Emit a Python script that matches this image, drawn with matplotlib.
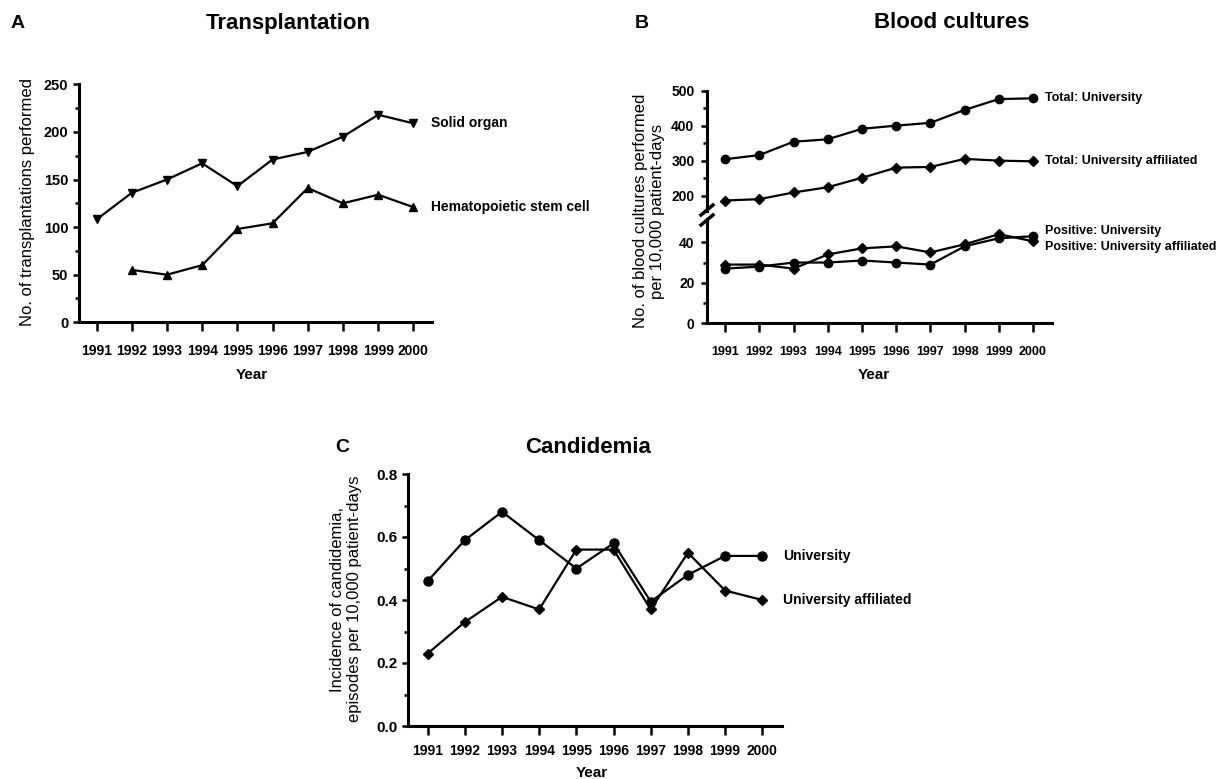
import matplotlib
matplotlib.use("Agg")
import matplotlib.pyplot as plt
from matplotlib.lines import Line2D
from matplotlib.ticker import MultipleLocator, FixedLocator

plt.rcParams['font.family'] = ['Liberation Sans', 'DejaVu Sans']
plt.rcParams['font.weight'] = 'bold'

# ---- data ----
years = list(range(1991, 2001))

# A: transplantation counts
solid_organ = [108, 136, 150, 167, 143, 171, 179, 195, 218, 209]
hsc_years = years[1:]
hsc = [55, 50, 60, 98, 104, 141, 125, 134, 121]

# B: blood cultures per 10,000 patient-days
total_univ = [305, 317, 355, 362, 392, 401, 409, 446, 477, 479]
total_aff = [187, 191, 210, 225, 252, 281, 283, 306, 301, 299]
pos_univ = [27, 28, 30, 30, 31, 30, 29, 38, 42, 43]
pos_aff = [29, 29, 27, 34, 37, 38, 35, 39, 44, 40.5]

# C: candidemia incidence
cand_univ = [0.46, 0.59, 0.68, 0.59, 0.50, 0.58, 0.395, 0.48, 0.54, 0.54]
cand_aff = [0.23, 0.33, 0.41, 0.37, 0.56, 0.56, 0.37, 0.55, 0.43, 0.40]

W, H = 1224, 779
fig = plt.figure(figsize=(W / 100, H / 100), dpi=100)


def fx(px):
    return px / W


def fy(py):
    return 1 - py / H


def add_axes(x0, y0, x1, y1):
    # pixel box (top-left origin) -> figure axes
    return fig.add_axes([x0 / W, 1 - y1 / H, (x1 - x0) / W, (y1 - y0) / H])


def style(ax, xsize, ysize, xpad, ypad):
    for s in ['top', 'right']:
        ax.spines[s].set_visible(False)
    for s in ['left', 'bottom']:
        ax.spines[s].set_linewidth(2.2)
    ax.tick_params(axis='x', which='major', direction='out', length=6.5,
                   width=1.8, pad=xpad, labelsize=xsize)
    ax.tick_params(axis='x', which='minor', length=0)
    ax.tick_params(axis='y', which='major', direction='out', length=4,
                   width=1.8, pad=ypad, labelsize=ysize)
    ax.tick_params(axis='y', which='minor', direction='out', length=3, width=1.8)


line_kw = dict(color='black', lw=1.6, clip_on=False)

# ---------------- Panel A ----------------
axA = add_axes(79.3, 84.3, 432, 322.3)
axA.plot(years, solid_organ, marker='v', ms=6, **line_kw)
axA.plot(hsc_years, hsc, marker='^', ms=6, **line_kw)
axA.set_xlim(1990.51, 2000.53)
axA.set_ylim(0, 250)
axA.set_xticks(years)
axA.set_yticks(range(0, 251, 50))
axA.yaxis.set_minor_locator(MultipleLocator(25))
style(axA, 10, 10.5, 9, 4)
axA.text(2000.5, solid_organ[-1], 'Solid organ', fontsize=10, va='center', ha='left')
axA.text(2000.5, hsc[-1], 'Hematopoietic stem cell', fontsize=10, va='center', ha='left')

fig.text(fx(18), fy(23), 'A', fontsize=14, ha='center', va='center')
fig.text(fx(288), fy(23), 'Transplantation', fontsize=16, ha='center', va='center')
fig.text(fx(27.5), fy(201.5), 'No. of transplantations performed', fontsize=12,
         fontweight='normal', rotation=90, ha='center', va='center')
fig.text(fx(252), fy(375), 'Year', fontsize=11, ha='center', va='center')

# ---------------- Panel B (broken y axis) ----------------
bx0, bx1 = 707, 1051.5
axBt = add_axes(bx0, 91, bx1, 211)
axBb = add_axes(bx0, 219, bx1, 323.3)
for ax in (axBt, axBb):
    ax.plot(years, total_univ if ax is axBt else pos_univ, marker='o', ms=6, **line_kw)
    ax.plot(years, total_aff if ax is axBt else pos_aff, marker='D', ms=4.8, **line_kw)
    ax.set_xlim(1990.47, 2000.54)
    ax.set_xticks(years)
    style(ax, 9, 10, 10, 5)

axBt.set_ylim(157.1, 500)
axBt.set_yticks([200, 300, 400, 500])
axBt.yaxis.set_minor_locator(FixedLocator([250, 350, 450]))
axBt.spines['bottom'].set_visible(False)
axBt.tick_params(axis='x', which='both', bottom=False, labelbottom=False)

axBb.set_ylim(0, 51.5)
axBb.set_yticks([0, 20, 40])
axBb.yaxis.set_minor_locator(FixedLocator([10, 30]))

axBt.text(2000.35, total_univ[-1], 'Total: University', fontsize=9, va='center')
axBt.text(2000.35, total_aff[-1], 'Total: University affiliated', fontsize=9, va='center')
axBb.text(2000.35, 45.5, 'Positive: University', fontsize=9, va='center', clip_on=False)
axBb.text(2000.35, 37.5, 'Positive: University affiliated', fontsize=9, va='center',
          clip_on=False)

# break marks on the y axis
for yb in (215, 225):
    fig.add_artist(Line2D([fx(bx0 - 6), fx(bx0 + 6)], [fy(yb), fy(yb - 10)],
                          transform=fig.transFigure, color='black', lw=2.5))

fig.text(fx(642), fy(23), 'B', fontsize=14, ha='center', va='center')
fig.text(fx(952), fy(23), 'Blood cultures', fontsize=16, ha='center', va='center')
fig.text(fx(649), fy(211), 'No. of blood cultures performed\nper 10,000 patient-days',
         fontsize=12, fontweight='normal', rotation=90, ha='center', va='center',
         multialignment='center', linespacing=1.1)
fig.text(fx(874), fy(375), 'Year', fontsize=11, ha='center', va='center')

# ---------------- Panel C ----------------
axC = add_axes(408.3, 474, 782, 726)
axC.plot(years, cand_univ, marker='o', ms=6.5, **line_kw)
axC.plot(years, cand_aff, marker='D', ms=5, **line_kw)
axC.set_xlim(1990.48, 2000.53)
axC.set_ylim(0, 0.8)
axC.set_xticks(years)
axC.set_yticks([0.0, 0.2, 0.4, 0.6, 0.8])
axC.set_yticklabels(['0.0', '0.2', '0.4', '0.6', '0.8'])
axC.yaxis.set_minor_locator(MultipleLocator(0.1))
style(axC, 10, 11, 6.5, 4)
axC.text(2000.56, cand_univ[-1], 'University', fontsize=10, va='center')
axC.text(2000.56, cand_aff[-1], 'University affiliated', fontsize=10, va='center')

fig.text(fx(342), fy(447), 'C', fontsize=14, ha='center', va='center')
fig.text(fx(588), fy(447), 'Candidemia', fontsize=16, ha='center', va='center')
fig.text(fx(346), fy(599), 'Incidence of candidemia,\nepisodes per 10,000 patient-days',
         fontsize=12, fontweight='normal', rotation=90, ha='center', va='center',
         multialignment='center', linespacing=1.1)
fig.text(fx(592), fy(773), 'Year', fontsize=11, ha='center', va='center')

fig.savefig('out.png', dpi=100)
